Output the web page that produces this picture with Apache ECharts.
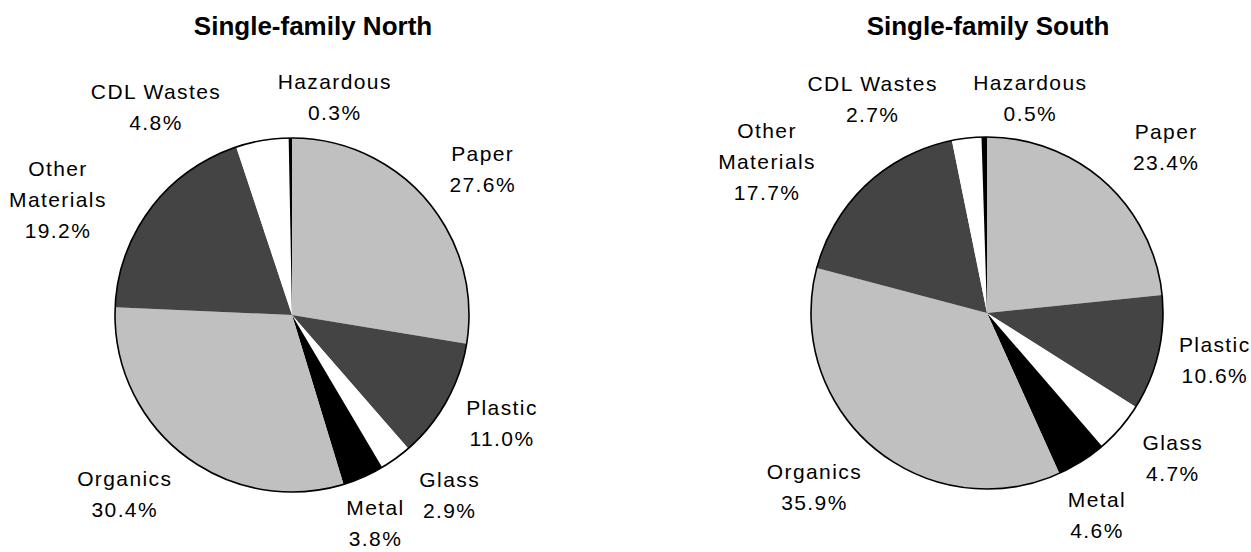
<!DOCTYPE html>
<html>
<head>
<meta charset="utf-8">
<script src="https://cdn.jsdelivr.net/npm/echarts@6/dist/echarts.min.js"></script>
<style>
  html, body { margin: 0; padding: 0; background: #fff; }
  #chart { width: 1251px; height: 552px; }
  /* slightly tracked label text, titles stay tight */
  #chart svg text { letter-spacing: 1.4px; }
  #chart svg text[style*="bold"], #chart svg text[font-weight="bold"] { letter-spacing: 0; }
</style>
</head>
<body>
<div id="chart"></div>
<script>
// Waste composition by material, percent of total
const categories = ['Paper', 'Plastic', 'Glass', 'Metal', 'Organics', 'Other\nMaterials', 'CDL Wastes', 'Hazardous'];
const northShares = [27.6, 11.0, 2.9, 3.8, 30.4, 19.2, 4.8, 0.3];
const southShares = [23.4, 10.6, 4.7, 4.6, 35.9, 17.7, 2.7, 0.5];
const chartTitles = ['Single-family North', 'Single-family South'];

// Slice fills, one per category
const sliceColors = ['#c0c0c0', '#444444', '#ffffff', '#000000', '#c0c0c0', '#444444', '#ffffff', '#000000'];

// Pie geometry and label placement
const pies = [
  { shares: northShares, center: [292, 315], radius: 177, titleX: 313,
    nudges: [[10, 7], [3, -7], [19, -12], [-12, -9], [-22, -8], [-45, 27], [-96, 26], [45, 19]] },
  { shares: southShares, center: [987, 313], radius: 176, titleX: 988,
    nudges: [[21, 9], [-2, -7], [7, -9], [-17, 3], [-20, -6], [-58, 20], [-87, 20], [47, 21]] }
];
const labelGap = 60;
const FONT = '"Liberation Sans", Arial, sans-serif';

function labelAnchor(pie, i) {
  const total = pie.shares.reduce((a, b) => a + b, 0);
  let before = 0;
  for (let k = 0; k < i; k++) before += pie.shares[k];
  const mid = (before + pie.shares[i] / 2) / total * Math.PI * 2;
  const d = pie.radius + labelGap;
  return [
    pie.center[0] + d * Math.sin(mid) + pie.nudges[i][0],
    pie.center[1] - d * Math.cos(mid) + pie.nudges[i][1]
  ];
}

const series = [];
pies.forEach(function (pie) {
  series.push({
    type: 'pie',
    center: pie.center,
    radius: pie.radius,
    startAngle: 90,
    clockwise: true,
    avoidLabelOverlap: false,
    animation: false,
    silent: true,
    itemStyle: { borderWidth: 0 },
    label: {
      show: true,
      position: 'outside',
      fontFamily: FONT,
      fontSize: 21,
      lineHeight: 31,
      color: '#000',
      formatter: function (p) { return p.name + '\n' + p.value.toFixed(1) + '%'; }
    },
    labelLine: { show: false },
    labelLayout: function (params) {
      const pt = labelAnchor(pie, params.dataIndex);
      return { x: pt[0], y: pt[1], align: 'center', verticalAlign: 'middle' };
    },
    data: categories.map(function (name, i) {
      return { name: name, value: pie.shares[i], itemStyle: { color: sliceColors[i] } };
    })
  });
  // outer rim of the pie
  series.push({
    type: 'pie',
    center: pie.center,
    radius: pie.radius,
    animation: false,
    silent: true,
    z: 5,
    label: { show: false },
    labelLine: { show: false },
    itemStyle: { color: 'transparent', borderColor: '#000', borderWidth: 1.6 },
    data: [{ value: 1, name: '' }]
  });
});

const chart = echarts.init(document.getElementById('chart'), null, { renderer: 'svg' });
chart.setOption({
  backgroundColor: '#fff',
  title: pies.map(function (pie, i) {
    return {
      text: chartTitles[i],
      left: pie.titleX,
      top: 13,
      padding: 0,
      textAlign: 'center',
      textStyle: { fontFamily: FONT, fontSize: 26, fontWeight: 'bold', color: '#000' }
    };
  }),
  tooltip: { show: false },
  series: series
});
</script>
</body>
</html>
